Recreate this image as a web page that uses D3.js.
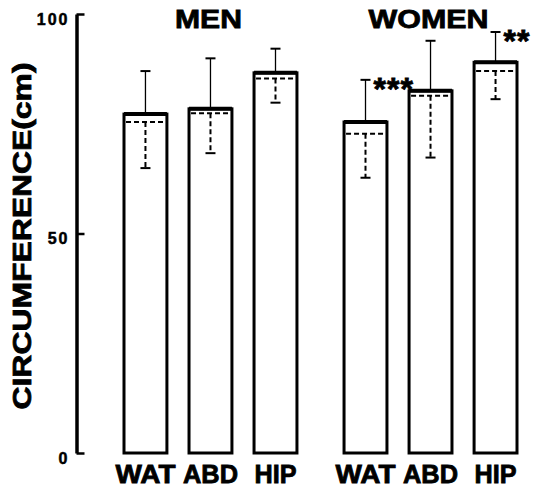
<!DOCTYPE html>
<html lang="en">
<head>
    <meta charset="UTF-8">
    <title>Circumference</title>
    <script src="https://d3js.org/d3.v7.min.js"></script>
    <style>
        body {
            margin: 0;
            padding: 0;
            background: #fff;
        }
        text {
            font-family: "Liberation Sans", Arial, sans-serif;
            font-weight: bold;
            fill: #000;
        }
        .heavy {
            stroke: #000;
            stroke-width: 0.8px;
        }
        .tick text {
            font-size: 16px;
            letter-spacing: 2px;
            stroke: #000;
            stroke-width: 0.5px;
        }
    </style>
</head>
<body>
    <svg width="541" height="488"></svg>
    <script>
        // Data (cm)
        const groups = ["MEN", "WOMEN"];
        const sites = ["WAT", "ABD", "HIP"];
        const yTicks = [0, 50, 100];

        // solid bar = one method, dashed line = the other
        const meanSolid = { MEN: [77.2, 78.4, 86.6], WOMEN: [75.4, 82.5, 89.0] };
        const sdSolid   = { MEN: [9.8, 11.5, 5.5],   WOMEN: [9.6, 11.4, 6.9] };
        const meanDash  = { MEN: [75.4, 77.4, 85.3], WOMEN: [72.7, 81.4, 87.0] };
        const sdDash    = { MEN: [10.5, 9.1, 5.5],   WOMEN: [10.0, 14.1, 6.4] };
        const signif    = { MEN: ["", "", ""],       WOMEN: ["***", "", "**"] };

        const svg = d3.select("svg");

        const y = d3.scaleLinear().domain([0, 100]).range([453, 14]);

        const xGroup = d3.scaleBand()
            .domain(groups)
            .range([124, 517])
            .paddingInner(0.214);

        const xSite = d3.scaleBand()
            .domain(sites)
            .range([0, xGroup.bandwidth()])
            .paddingInner(0.34);

        // flatten into rows for drawing
        const rows = [];
        groups.forEach(g => {
            sites.forEach((s, i) => {
                rows.push({
                    group: g, site: s,
                    m1: meanSolid[g][i], s1: sdSolid[g][i],
                    m2: meanDash[g][i], s2: sdDash[g][i],
                    star: signif[g][i]
                });
            });
        });

        const bx = d => xGroup(d.group) + xSite(d.site);
        const cx = d => bx(d) + xSite.bandwidth() / 2;
        const bw = xSite.bandwidth();
        const cap = 5;

        // y axis, ticks pointing into the plot
        const yAxis = d3.axisLeft(y)
            .tickValues(yTicks)
            .tickSizeInner(-8)
            .tickSizeOuter(0)
            .tickPadding(7);

        const ax = svg.append("g")
            .attr("transform", "translate(76.5,0)")
            .call(yAxis)
            .attr("font-size", null)
            .attr("font-family", null);
        ax.select(".domain").attr("stroke-width", 3.5);
        ax.selectAll(".tick line").attr("stroke-width", 2.5);
        ax.selectAll(".tick text")
            .attr("dy", null)
            .attr("y", 10);

        // y title
        svg.append("text")
            .attr("class", "heavy")
            .attr("transform", "translate(31,236) rotate(-90)")
            .attr("text-anchor", "middle")
            .attr("font-size", 26)
            .attr("textLength", 347)
            .attr("lengthAdjust", "spacingAndGlyphs")
            .text("CIRCUMFERENCE(cm)");

        // bars
        const bar = svg.append("g").selectAll("g")
            .data(rows)
            .join("g");

        bar.append("rect")
            .attr("x", bx)
            .attr("y", d => y(d.m1))
            .attr("width", bw)
            .attr("height", d => y(0) - y(d.m1))
            .attr("fill", "#fff")
            .attr("stroke", "#000")
            .attr("stroke-width", 3);

        // thicker top edge
        bar.append("line")
            .attr("x1", bx)
            .attr("x2", d => bx(d) + bw)
            .attr("y1", d => y(d.m1))
            .attr("y2", d => y(d.m1))
            .attr("stroke", "#000")
            .attr("stroke-width", 4);

        // dashed mean inside bar
        bar.append("line")
            .attr("x1", d => bx(d) + 2)
            .attr("x2", d => bx(d) + bw - 2)
            .attr("y1", d => y(d.m2))
            .attr("y2", d => y(d.m2))
            .attr("stroke", "#000")
            .attr("stroke-width", 2)
            .attr("stroke-dasharray", "5,3");

        // solid SD upward
        bar.append("line")
            .attr("x1", cx).attr("x2", cx)
            .attr("y1", d => y(d.m1))
            .attr("y2", d => y(d.m1 + d.s1))
            .attr("stroke", "#000")
            .attr("stroke-width", 1.3);
        bar.append("line")
            .attr("x1", d => cx(d) - cap).attr("x2", d => cx(d) + cap)
            .attr("y1", d => y(d.m1 + d.s1))
            .attr("y2", d => y(d.m1 + d.s1))
            .attr("stroke", "#000")
            .attr("stroke-width", 2);

        // dashed SD downward
        bar.append("line")
            .attr("x1", cx).attr("x2", cx)
            .attr("y1", d => y(d.m2))
            .attr("y2", d => y(d.m2 - d.s2))
            .attr("stroke", "#000")
            .attr("stroke-width", 2)
            .attr("stroke-dasharray", "5,3");
        bar.append("line")
            .attr("x1", d => cx(d) - cap).attr("x2", d => cx(d) + cap)
            .attr("y1", d => y(d.m2 - d.s2))
            .attr("y2", d => y(d.m2 - d.s2))
            .attr("stroke", "#000")
            .attr("stroke-width", 2);

        // significance stars
        bar.filter(d => d.star)
            .append("text")
            .attr("class", "heavy")
            .attr("x", d => cx(d) + cap + 3)
            .attr("y", d => y(d.m1 + d.s1) + 20)
            .attr("font-size", 32)
            .attr("letter-spacing", 1)
            .text(d => d.star);

        // site labels
        const siteWidth = { WAT: 60, ABD: 55, HIP: 42 };
        bar.append("text")
            .attr("class", "heavy")
            .attr("x", cx)
            .attr("y", 483)
            .attr("text-anchor", "middle")
            .attr("font-size", 25)
            .attr("textLength", d => siteWidth[d.site])
            .attr("lengthAdjust", "spacingAndGlyphs")
            .text(d => d.site);

        // group titles
        const titleWidth = { MEN: 67, WOMEN: 120 };
        svg.append("g").selectAll("text")
            .data(groups)
            .join("text")
            .attr("class", "heavy")
            .attr("x", g => xGroup(g) + xGroup.bandwidth() / 2 - 2)
            .attr("y", 28)
            .attr("text-anchor", "middle")
            .attr("font-size", 26)
            .attr("textLength", g => titleWidth[g])
            .attr("lengthAdjust", "spacingAndGlyphs")
            .text(g => g);
    </script>
</body>
</html>
